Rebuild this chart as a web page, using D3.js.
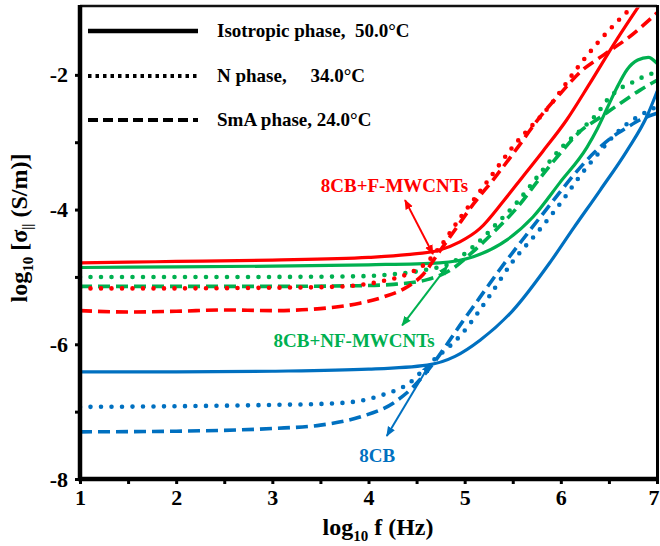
<!DOCTYPE html>
<html>
<head>
<meta charset="utf-8">
<script src="https://cdn.jsdelivr.net/npm/d3@7"></script>
<style>
  html, body { margin: 0; padding: 0; background: #fff; }
  svg { display: block; }
  text { font-family: "Liberation Serif", "Times New Roman", Times, serif; font-weight: bold; }
</style>
</head>
<body>
<svg id="chart" width="660" height="546"></svg>
<script>
// log10 f (Hz) vs log10 sigma (S/m) for each sample and phase, as [logF, logSigma]
const fIso = [[1,-4.79],[1.5,-4.78],[2,-4.77],[3,-4.75],[4,-4.71],[4.4,-4.67],[4.74,-4.6],[4.95,-4.48],[5.16,-4.28],[5.40,-3.88],[5.61,-3.5],[5.81,-3.14],[6.06,-2.67],[6.30,-2.13],[6.58,-1.48],[6.82,-0.96]];
const fN   = [[1,-5.17],[2,-5.17],[3,-5.16],[3.56,-5.15],[3.91,-5.12],[4.12,-5.07],[4.43,-4.94],[4.61,-4.78],[4.74,-4.56],[4.95,-4.13],[5.19,-3.67],[5.5,-3.07],[5.89,-2.45],[6.17,-1.9],[6.41,-1.48],[6.75,-0.98]];
const fSmA = [[1,-5.5],[1.5,-5.52],[2,-5.51],[2.5,-5.49],[3,-5.5],[3.5,-5.47],[3.91,-5.39],[4.15,-5.3],[4.4,-5.15],[4.57,-4.96],[4.74,-4.62],[4.9,-4.3],[5.09,-3.92],[5.3,-3.55],[5.54,-3.1],[5.78,-2.63],[6.0,-2.27],[6.2,-1.96],[6.45,-1.7],[6.7,-1.45],[7.0,-1.08]];

const nfIso = [[1,-4.86],[2,-4.85],[3,-4.84],[4,-4.82],[4.74,-4.79],[5.09,-4.7],[5.44,-4.45],[5.71,-4.11],[5.99,-3.6],[6.27,-3.08],[6.38,-2.8],[6.48,-2.5],[6.58,-2.2],[6.69,-1.92],[6.8,-1.78],[6.91,-1.74],[7.0,-1.83]];
const nfN   = [[1,-5.0],[3,-5.0],[3.9,-4.99],[4.26,-4.96],[4.61,-4.89],[4.85,-4.8],[5.09,-4.55],[5.34,-4.2],[5.54,-3.9],[5.78,-3.47],[6.02,-3.06],[6.23,-2.79],[6.38,-2.57],[6.49,-2.36],[6.59,-2.23],[6.79,-2.08],[6.9,-2.0],[7.0,-1.97]];
const nfSmA = [[1,-5.14],[2,-5.14],[3,-5.14],[3.9,-5.13],[4.26,-5.11],[4.61,-5.04],[4.85,-4.9],[5.09,-4.62],[5.34,-4.28],[5.54,-3.98],[5.78,-3.54],[6.02,-3.12],[6.2,-2.84],[6.41,-2.63],[6.62,-2.42],[6.82,-2.23],[7.0,-2.08]];

const cbIso = [[1,-6.41],[2,-6.41],[3,-6.4],[4,-6.37],[4.61,-6.31],[4.9,-6.18],[5.16,-5.94],[5.5,-5.5],[5.89,-4.78],[6.13,-4.28],[6.41,-3.71],[6.69,-3.12],[6.9,-2.6],[7.0,-2.25]];
const cbN   = [[1,-6.93],[2,-6.92],[3,-6.9],[3.6,-6.88],[3.91,-6.84],[4.15,-6.75],[4.43,-6.57],[4.61,-6.32],[4.98,-5.83],[5.26,-5.28],[5.5,-4.77],[5.75,-4.35],[6.02,-3.86],[6.2,-3.5],[6.4,-3.15],[6.54,-2.92],[6.65,-2.77],[6.77,-2.65],[6.93,-2.52],[7.0,-2.47]];
const cbSmA = [[1,-7.3],[2,-7.29],[3,-7.25],[3.5,-7.2],[3.91,-7.08],[4.26,-6.87],[4.46,-6.64],[4.61,-6.4],[4.98,-5.66],[5.16,-5.3],[5.35,-4.92],[5.65,-4.36],[5.92,-3.87],[6.15,-3.46],[6.35,-3.15],[6.51,-2.95],[6.69,-2.78],[6.82,-2.67],[7.0,-2.57]];

const xTicks = [1, 2, 3, 4, 5, 6, 7];
const yTicks = [-8, -7, -6, -5, -4, -3, -2];
const legendLabels = ["Isotropic phase,  50.0\u00B0C", "N phase,     34.0\u00B0C", "SmA phase, 24.0\u00B0C"];
const sampleNames = ["8CB+F-MWCNTs", "8CB+NF-MWCNTs", "8CB"];
// annotation arrows: label anchor and arrow ends in data units
const labelAt = [[4.27,-3.74],[3.85,-6.04],[4.09,-7.75]];
const arrowEnds = [[[4.38,-3.86],[4.67,-4.66]], [[4.82,-4.84],[4.35,-5.72]], [[4.64,-6.29],[4.19,-7.36]]];

const RED = "#ff0000", GREEN = "#00b050", BLUE = "#0070c0";
const styles = {
  solid:  { width: 3.2, dash: null, cap: "round" },
  dotted: { width: 4.6, dash: "0 10.5", cap: "round" },
  dashed: { width: 3.6, dash: "12 6", cap: "butt" }
};
const series = [
  { data: cbSmA, color: BLUE, style: "dashed" },
  { data: cbN,   color: BLUE, style: "dotted" },
  { data: cbIso, color: BLUE, style: "solid" },
  { data: nfSmA, color: GREEN, style: "dashed" },
  { data: nfN,   color: GREEN, style: "dotted" },
  { data: nfIso, color: GREEN, style: "solid" },
  { data: fSmA,  color: RED, style: "dashed" },
  { data: fN,    color: RED, style: "dotted" },
  { data: fIso,  color: RED, style: "solid" }
];

const svg = d3.select("#chart");
const x = d3.scaleLinear().domain([1, 7]).range([80, 657]);
const y = d3.scaleLinear().domain([-8, -1]).range([479, 7.5]);

const defs = svg.append("defs");
defs.append("clipPath").attr("id", "plotClip")
  .append("rect").attr("x", x(1)).attr("y", y(-1)).attr("width", x(7) - x(1)).attr("height", y(-8) - y(-1));

// arrowheads
[["r", RED], ["g", GREEN], ["b", BLUE]].forEach(([id, c]) => {
  defs.append("marker").attr("id", "arr-" + id)
    .attr("viewBox", "0 0 10 10").attr("refX", 9).attr("refY", 5)
    .attr("markerUnits", "userSpaceOnUse").attr("markerWidth", 10).attr("markerHeight", 10)
    .attr("orient", "auto-start-reverse")
    .append("path").attr("d", "M0,1 L10,5 L0,9 Z").attr("fill", c);
});

// curves
const line = d3.line().x(d => x(d[0])).y(d => y(d[1])).curve(d3.curveMonotoneX);
const plot = svg.append("g").attr("clip-path", "url(#plotClip)");
series.forEach(s => {
  const st = styles[s.style];
  plot.append("path").attr("d", line(s.data))
    .attr("fill", "none").attr("stroke", s.color)
    .attr("stroke-width", st.width).attr("stroke-linecap", st.cap)
    .attr("stroke-linejoin", "round")
    .attr("stroke-dasharray", st.dash);
});

// axes
const xAxis = d3.axisBottom(x).tickValues(d3.range(1, 7.01, 0.5)).tickSize(5).tickPadding(5)
  .tickFormat(d => xTicks.includes(d) ? d : "");
const gx = svg.append("g").attr("transform", `translate(0,${y(-8)})`).call(xAxis);
gx.select(".domain").remove();
gx.selectAll(".tick line").attr("stroke", "#000").attr("stroke-width", 3);
gx.selectAll(".tick text").attr("font-size", 22).attr("fill", "#000")
  .attr("font-family", "'Liberation Serif','Times New Roman',serif").attr("font-weight", "bold")
  .filter(d => d === 7).attr("text-anchor", "end").attr("dx", 2);

const yAxis = d3.axisLeft(y).tickValues(yTicks).tickSize(5).tickPadding(7)
  .tickFormat(d => d % 2 === 0 ? String(d) : "");
const gy = svg.append("g").attr("transform", `translate(${x(1)},0)`).call(yAxis);
gy.select(".domain").remove();
gy.selectAll(".tick line").attr("stroke", "#000").attr("stroke-width", 3);
gy.selectAll(".tick text").attr("font-size", 22).attr("fill", "#000")
  .attr("font-family", "'Liberation Serif','Times New Roman',serif").attr("font-weight", "bold");

// frame
svg.append("line").attr("x1", x(1)).attr("x2", x(7)).attr("y1", y(-1) - 1.5).attr("y2", y(-1) - 1.5)
  .attr("stroke", "#111").attr("stroke-width", 2.5);
svg.append("line").attr("x1", x(7) + 0.5).attr("x2", x(7) + 0.5).attr("y1", y(-1) - 2.5).attr("y2", y(-8))
  .attr("stroke", "#000").attr("stroke-width", 3);
svg.append("line").attr("x1", x(1)).attr("x2", x(1)).attr("y1", y(-1) - 2.5).attr("y2", y(-8) + 2)
  .attr("stroke", "#000").attr("stroke-width", 4.5);
svg.append("line").attr("x1", x(1) - 2).attr("x2", x(7) + 2).attr("y1", y(-8)).attr("y2", y(-8))
  .attr("stroke", "#000").attr("stroke-width", 4.5);

// legend
const legStyles = [
  { width: 4.5, dash: null },
  { width: 4, dash: "3.5 4" },
  { width: 4, dash: "10 5" }
];
const legRows = [31, 76, 120];
legendLabels.forEach((lab, i) => {
  svg.append("line").attr("x1", 88).attr("x2", 198).attr("y1", legRows[i]).attr("y2", legRows[i])
    .attr("stroke", "#000").attr("stroke-width", legStyles[i].width)
    .attr("stroke-dasharray", legStyles[i].dash);
  svg.append("text").attr("x", 217).attr("y", legRows[i] + 5.5)
    .attr("font-size", 19).attr("fill", "#000").style("white-space", "pre")
    .text(lab);
});

// sample annotations
const annColors = [RED, GREEN, BLUE];
const annIds = ["r", "g", "b"];
sampleNames.forEach((name, i) => {
  svg.append("text").attr("x", x(labelAt[i][0])).attr("y", y(labelAt[i][1]))
    .attr("text-anchor", "middle").attr("font-size", 19).attr("fill", annColors[i])
    .text(name);
  const [a, b] = arrowEnds[i];
  svg.append("line")
    .attr("x1", x(a[0])).attr("y1", y(a[1])).attr("x2", x(b[0])).attr("y2", y(b[1]))
    .attr("stroke", annColors[i]).attr("stroke-width", 2)
    .attr("marker-start", `url(#arr-${annIds[i]})`)
    .attr("marker-end", `url(#arr-${annIds[i]})`);
});

// axis titles
const xt = svg.append("text").attr("x", 378).attr("y", 535).attr("text-anchor", "middle")
  .attr("font-size", 24).attr("fill", "#000");
xt.append("tspan").text("log");
xt.append("tspan").attr("font-size", 15).attr("dy", 6).text("10");
xt.append("tspan").attr("dy", -6).text(" f (Hz)");

const yt = svg.append("text").attr("transform", "translate(27,228) rotate(-90)")
  .attr("text-anchor", "middle").attr("font-size", 24).attr("fill", "#000");
yt.append("tspan").text("log");
yt.append("tspan").attr("font-size", 15).attr("dy", 6).text("10");
yt.append("tspan").attr("dy", -6).text(" [\u03C3");
yt.append("tspan").attr("font-size", 14).attr("dy", 5).text("||");
yt.append("tspan").attr("dy", -5).text(" (S/m)]");
</script>
</body>
</html>
